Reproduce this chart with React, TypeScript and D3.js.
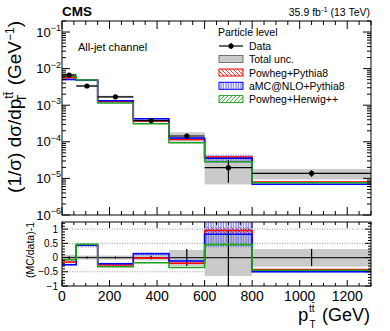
import React from "react";
import * as d3 from "d3";

const binEdges = [0, 60, 150, 300, 450, 600, 800, 1300];
const dataValues = [6.7e-3, 3.35e-3, 1.7e-3, 3.8e-4, 1.44e-4, 1.96e-5, 1.38e-5];
const dataErrUp = [0.05, 0.05, 0.05, 0.06, 0.15, 0.63, 0.2];
const dataErrDn = [0.05, 0.05, 0.05, 0.06, 0.15, 0.61, 0.2];
const totalUncUp = [0.1, 0.07, 0.07, 0.1, 0.27, 1.0, 0.3];
const totalUncDn = [0.1, 0.07, 0.07, 0.1, 0.3, 0.65, 0.32];
const ratioErrUp = [0.05, 0.04, 0.04, 0.06, 0.3, 0.95, 0.3];
const ratioErrDn = [0.05, 0.04, 0.04, 0.06, 0.3, 1.0, 0.3];
const powhegPythiaRatio = [-0.16, 0.44, -0.26, -0.02, -0.2, 0.95, -0.42];
const amcRatio = [-0.25, 0.43, -0.22, 0.13, -0.12, 0.82, -0.5];
const herwigRatio = [-0.08, 0.46, -0.32, -0.18, -0.35, 0.46, -0.45];
const powhegPythiaUnc = [0.03, 0.03, 0.03, 0.03, 0.03, 0.06, 0.03];
const amcUnc = [0.05, 0.05, 0.05, 0.05, 0.05, 0.25, 0.05];
const herwigUnc = [0.03, 0.03, 0.03, 0.03, 0.03, 0.04, 0.03];
const xTickLabels = [0, 200, 400, 600, 800, 1000, 1200];
const yTopDecades = [-6, -5, -4, -3, -2, -1];
const yRatioTicks = [-1, -0.5, 0, 0.5, 1];
const ratioGrid = [-0.5, 0.5, 1];

const FONT = "'Liberation Sans', Arial, Helvetica, sans-serif";
const RED = "#ff0000";
const BLUE = "#0000ff";
const GREEN = "#22a022";

const L = 62, R = 371;
const TOP1 = 21, BOT1 = 215;
const TOP2 = 222, BOT2 = 286;

export default function App() {
  const x = d3.scaleLinear().domain([0, 1300]).range([L, R]);
  const yT = d3.scaleLog().domain([1e-6, 0.2]).range([BOT1, TOP1]);
  const yR = d3.scaleLinear().domain([-1, 1.25]).range([BOT2, TOP2]);

  const bins = dataValues.map((v, i) => ({ lo: binEdges[i], hi: binEdges[i + 1], v, i }));

  const stepPath = (vals: number[], y: (v: number) => number) => {
    const pts: [number, number][] = [];
    vals.forEach((v, i) => {
      pts.push([binEdges[i], v]);
      pts.push([binEdges[i + 1], v]);
    });
    return d3.line<[number, number]>().x((d) => x(d[0])).y((d) => y(d[1]))(pts) || "";
  };

  const mcs = [
    { name: "Powheg+Pythia8", ratio: powhegPythiaRatio, unc: powhegPythiaUnc, color: RED, pat: "hRed" },
    { name: "aMC@NLO+Pythia8", ratio: amcRatio, unc: amcUnc, color: BLUE, pat: "hBlue" },
    { name: "Powheg+Herwig++", ratio: herwigRatio, unc: herwigUnc, color: GREEN, pat: "hGreen" },
  ];

  const xMajor = d3.range(0, 1301, 200);
  const xMinor = d3.range(0, 1301, 50).filter((v) => v % 200 !== 0);
  const logMinor: number[] = [];
  for (let e = -6; e <= -1; e++) for (let k = 2; k <= 9; k++) { const v = k * Math.pow(10, e); if (v <= 0.2) logMinor.push(v); }
  const rMinor = d3.range(-1, 1.26, 0.1).map((v) => Math.round(v * 10) / 10).filter((v) => Math.abs(v * 2 - Math.round(v * 2)) > 1e-6);

  const tickLines: JSX.Element[] = [];
  let k = 0;
  const tl = (x1: number, y1: number, x2: number, y2: number) => tickLines.push(<line key={k++} x1={x1} y1={y1} x2={x2} y2={y2} stroke="#000" strokeWidth={1} />);
  xMajor.forEach((v) => { const px = x(v); tl(px, BOT1, px, BOT1 - 8); tl(px, TOP1, px, TOP1 + 8); tl(px, BOT2, px, BOT2 - 6); tl(px, TOP2, px, TOP2 + 6); });
  xMinor.forEach((v) => { const px = x(v); tl(px, BOT1, px, BOT1 - 4); tl(px, TOP1, px, TOP1 + 4); tl(px, BOT2, px, BOT2 - 3); tl(px, TOP2, px, TOP2 + 3); });
  yTopDecades.forEach((e) => { const py = yT(Math.pow(10, e)); tl(L, py, L + 8, py); tl(R, py, R - 8, py); });
  logMinor.forEach((v) => { const py = yT(v); tl(L, py, L + 4, py); tl(R, py, R - 4, py); });
  yRatioTicks.forEach((v) => { const py = yR(v); tl(L, py, L + 6, py); tl(R, py, R - 6, py); });
  rMinor.forEach((v) => { const py = yR(v); tl(L, py, L + 3, py); tl(R, py, R - 3, py); });

  return (
    <svg width={390} height={331} style={{ position: "absolute", left: 0, top: 0, background: "#fff" }} fontFamily={FONT}>
      <defs>
        <pattern id="hRed" patternUnits="userSpaceOnUse" width={4} height={4}>
          <path d="M-1,-1 L5,5 M-1,3 L1,5 M3,-1 L5,1" stroke={RED} strokeWidth={0.8} />
        </pattern>
        <pattern id="hGreen" patternUnits="userSpaceOnUse" width={4} height={4}>
          <path d="M-1,5 L5,-1 M-1,1 L1,-1 M3,5 L5,3" stroke={GREEN} strokeWidth={0.8} />
        </pattern>
        <pattern id="hBlue" patternUnits="userSpaceOnUse" width={2.5} height={4}>
          <path d="M1,0 L1,4" stroke="#5b5bff" strokeWidth={1} />
        </pattern>
        <clipPath id="c1"><rect x={L} y={TOP1} width={R - L} height={BOT1 - TOP1} /></clipPath>
        <clipPath id="c2"><rect x={L} y={TOP2} width={R - L} height={BOT2 - TOP2} /></clipPath>
      </defs>

      {/* TOP PANEL */}
      <g clipPath="url(#c1)">
        {bins.map((b) => (
          <rect key={"g" + b.i} x={x(b.lo)} width={x(b.hi) - x(b.lo)} y={yT(b.v * (1 + totalUncUp[b.i]))}
            height={yT(b.v * (1 - totalUncDn[b.i])) - yT(b.v * (1 + totalUncUp[b.i]))} fill="#cacaca" />
        ))}
        {mcs.map((m) => bins.map((b) => {
          const c = b.v * (1 + m.ratio[b.i]);
          const hi = c * (1 + m.unc[b.i]); const lo = c * (1 - m.unc[b.i]);
          return <rect key={m.pat + b.i} x={x(b.lo)} width={x(b.hi) - x(b.lo)} y={yT(hi)} height={yT(lo) - yT(hi)} fill={`url(#${m.pat})`} />;
        }))}
        {mcs.map((m) => (
          <path key={m.name} d={stepPath(dataValues.map((v, i) => v * (1 + m.ratio[i])), yT)} fill="none" stroke={m.color} strokeWidth={1.5} />
        ))}
        {bins.map((b) => {
          const cx = x((b.lo + b.hi) / 2);
          return (
            <g key={"d" + b.i}>
              <line x1={x(b.lo)} x2={x(b.hi)} y1={yT(b.v)} y2={yT(b.v)} stroke="#000" strokeWidth={1.2} />
              <line x1={cx} x2={cx} y1={yT(b.v * (1 + dataErrUp[b.i]))} y2={yT(b.v * (1 - dataErrDn[b.i]))} stroke="#000" strokeWidth={1.2} />
              <circle cx={cx} cy={yT(b.v)} r={2.6} fill="#000" />
            </g>
          );
        })}
      </g>
      <rect x={L} y={TOP1} width={R - L} height={BOT1 - TOP1} fill="none" stroke="#000" strokeWidth={1} />

      {/* RATIO PANEL */}
      <g clipPath="url(#c2)">
        {ratioGrid.map((v) => (
          <line key={"rg" + v} x1={L} x2={R} y1={yR(v)} y2={yR(v)} stroke="#9a9a9a" strokeWidth={1} strokeDasharray="1,1.5" />
        ))}
        {bins.map((b) => (
          <rect key={"rgb" + b.i} x={x(b.lo)} width={x(b.hi) - x(b.lo)} y={yR(totalUncUp[b.i])}
            height={yR(-totalUncDn[b.i]) - yR(totalUncUp[b.i])} fill="#cacaca" />
        ))}
        {mcs.map((m) => bins.map((b) => {
          const c = m.ratio[b.i];
          const hi = (1 + c) * (1 + m.unc[b.i]) - 1; const lo = (1 + c) * (1 - m.unc[b.i]) - 1;
          return <rect key={"r" + m.pat + b.i} x={x(b.lo)} width={x(b.hi) - x(b.lo)} y={yR(hi)} height={yR(lo) - yR(hi)} fill={`url(#${m.pat})`} />;
        }))}
        {bins.map((b) => {
          const cx = x((b.lo + b.hi) / 2);
          return (
            <g key={"rd" + b.i}>
              <line x1={x(b.lo)} x2={x(b.hi)} y1={yR(0)} y2={yR(0)} stroke="#222" strokeWidth={1.2} />
              <line x1={cx} x2={cx} y1={yR(ratioErrUp[b.i])} y2={yR(-ratioErrDn[b.i])} stroke="#000" strokeWidth={1.2} />
            </g>
          );
        })}
        {mcs.map((m) => (
          <path key={"r" + m.name} d={stepPath(m.ratio, yR)} fill="none" stroke={m.color} strokeWidth={1.5} />
        ))}
      </g>
      <rect x={L} y={TOP2} width={R - L} height={BOT2 - TOP2} fill="none" stroke="#000" strokeWidth={1} />

      {tickLines}

      {/* Y tick labels */}
      {yTopDecades.map((e) => (
        <text key={"yl" + e} x={61} y={yT(Math.pow(10, e)) + 4.5} textAnchor="end" fontSize={13}>
          10<tspan fontSize={9} dy={-5.5}>{"\u2212" + Math.abs(e)}</tspan>
        </text>
      ))}
      {yRatioTicks.map((v) => (
        <text key={"yr" + v} x={58} y={yR(v) + 3.5} textAnchor="end" fontSize={10}>
          {v === 0 ? "0" : String(v).replace("-", "\u2212")}
        </text>
      ))}
      {xTickLabels.map((v) => (
        <text key={"xl" + v} x={x(v)} y={301} textAnchor="middle" fontSize={14}>{v}</text>
      ))}

      {/* axis titles */}
      <text x={298} y={321} fontSize={18.5}>p</text>
      <text x={309} y={311.5} fontSize={10}>t{"t\u0304"}</text>
      <text x={309.5} y={328} fontSize={10}>T</text>
      <text x={370} y={321} fontSize={18} textAnchor="end">(GeV)</text>

      <g transform="translate(21,21) rotate(-90)">
        <text x={0} y={0} fontSize={19} textAnchor="end">
          (1/σ) dσ/dp<tspan fontSize={12} dy={-8}>{"t" + "t\u0304"}</tspan>
          <tspan fontSize={12} dx={-10} dy={13}>T</tspan>
          <tspan dy={-5} dx={4}> (GeV</tspan>
          <tspan fontSize={12} dy={-7}>{"\u22121"}</tspan>
          <tspan dy={7}>)</tspan>
        </text>
      </g>
      <text transform="translate(34,250) rotate(-90)" fontSize={10.5} textAnchor="middle">(MC/data)-1</text>

      {/* header */}
      <text x={62} y={16} fontSize={13.5} fontWeight="bold">CMS</text>
      <text x={370} y={16} fontSize={10.5} textAnchor="end">
        35.9 fb<tspan fontSize={7.5} dy={-4}>-1</tspan><tspan dy={4}> (13 TeV)</tspan>
      </text>
      <text x={78} y={51} fontSize={11}>All-jet channel</text>

      {/* legend */}
      <text x={218} y={36} fontSize={10.5}>Particle level</text>
      <g>
        <line x1={219} x2={243} y1={46} y2={46} stroke="#000" strokeWidth={1.2} />
        <line x1={231} x2={231} y1={43} y2={49} stroke="#000" strokeWidth={1.2} />
        <circle cx={231} cy={46} r={2.6} fill="#000" />
        <text x={249} y={50} fontSize={10.5}>Data</text>
        <rect x={219} y={55.5} width={24} height={7} fill="#cacaca" stroke="#555" strokeWidth={0.8} />
        <text x={249} y={63} fontSize={10.5}>Total unc.</text>
        {mcs.map((m, i) => (
          <g key={"lg" + i}>
            <rect x={219} y={69 + i * 13.3} width={24} height={7} fill={`url(#${m.pat})`} stroke={m.color} strokeWidth={1} />
            <text x={249} y={76.5 + i * 13.3} fontSize={10.5}>{m.name}</text>
          </g>
        ))}
      </g>
    </svg>
  );
}
